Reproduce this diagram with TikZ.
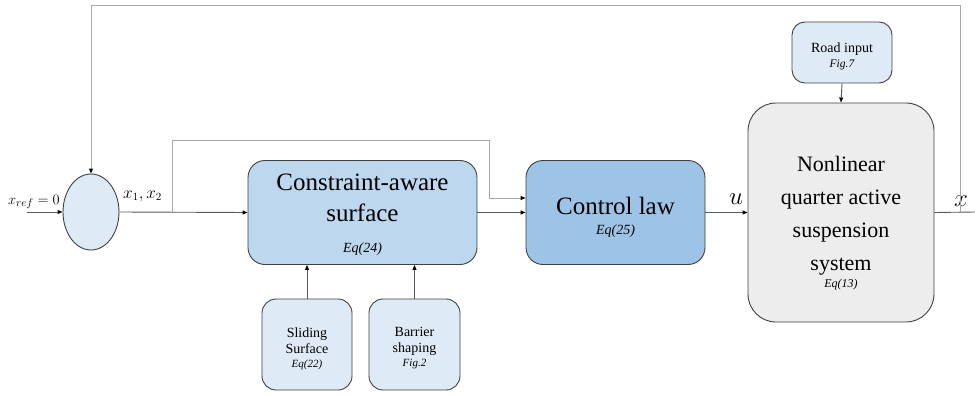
\documentclass[tikz,border=0pt]{standalone}
\usepackage{fontspec}
\setmainfont{Liberation Serif}
\usetikzlibrary{arrows.meta,shapes.geometric}
\definecolor{cLight}{HTML}{DEEBF7}
\definecolor{cMid}{HTML}{BDD7EE}
\definecolor{cDark}{HTML}{9DC3E6}
\definecolor{cGrey}{HTML}{EDEDED}
\definecolor{cBorder}{HTML}{404040}
\definecolor{cLine}{HTML}{595959}
\definecolor{cFb}{HTML}{A6A6A6}
\newcommand{\myfs}[2]{\fontsize{#1}{#2}\selectfont}
\begin{document}
\begin{tikzpicture}[x=1pt,y=-1pt,
  blk/.style={draw=cBorder, line width=0.9pt, inner sep=0pt},
  tip/.style={-{Triangle[length=5pt,width=4pt,color=black,fill=black]}},
  conn/.style={draw=cLine, line width=0.9pt, tip},
  connB/.style={draw=cFb, line width=0.9pt, tip},
  plain/.style={draw=cLine, line width=0.9pt},
  txt/.style={inner sep=0pt, align=center, text=black},
  eqtxt/.style={inner sep=0pt, anchor=base, font=\itshape}
]
\useasboundingbox (0,0) rectangle (975,396);

% blocks
\node[blk, ellipse, fill=cLight, minimum width=56pt, minimum height=76pt] (ell) at (91,212) {};
\node[blk, fill=cMid, rounded corners=17pt, minimum width=229pt, minimum height=104pt] (cons) at (362.5,212.5) {};
\node[blk, fill=cDark, rounded corners=17pt, minimum width=179pt, minimum height=104pt] (ctrl) at (615.5,212.5) {};
\node[blk, fill=cGrey, rounded corners=28pt, minimum width=186pt, minimum height=219pt] (plant) at (841,212.5) {};
\node[blk, fill=cLight, rounded corners=13pt, minimum width=100pt, minimum height=61pt] (road) at (842,52.5) {};
\node[blk, fill=cLight, rounded corners=14pt, minimum width=90pt, minimum height=91pt] (slide) at (307,344.5) {};
\node[blk, fill=cLight, rounded corners=14pt, minimum width=91pt, minimum height=91pt] (barr) at (414.5,344.5) {};

% texts
\node[txt, font=\myfs{25}{31}] (tcons) at (362.5,198) {Constraint-aware\\surface};
\node[eqtxt, font=\myfs{14}{16}\itshape] (econs) at (362.5,252) {Eq(24)};
\node[txt, anchor=base, font=\myfs{25}{31}] (tctrl) at (615.5,214) {Control law};
\node[eqtxt, font=\myfs{14}{16}\itshape] (ectrl) at (615.5,234) {Eq(25)};
\node[txt, font=\myfs{22}{33}] (tplant) at (841,216) {Nonlinear\\quarter active\\suspension\\system};
\node[eqtxt, font=\myfs{12}{14}\itshape] (eplant) at (841,287) {Eq(13)};
\node[txt, anchor=base, font=\myfs{14}{16}] (troad) at (842,53) {Road input};
\node[eqtxt, font=\myfs{11.5}{14}\itshape] (eroad) at (842,67.5) {Fig.7};
\node[txt, font=\myfs{14}{16}] (tslide) at (307,341) {Sliding\\Surface};
\node[eqtxt, font=\myfs{11}{14}\itshape] (eslide) at (307,367) {Eq(22)};
\node[txt, font=\myfs{14}{16}] (tbarr) at (414.5,341.5) {Barrier\\shaping};
\node[eqtxt, font=\myfs{11}{14}\itshape] (ebarr) at (414.5,366) {Fig.2};

% math labels
\node[inner sep=0pt, anchor=base west, font=\myfs{15}{18}] (lref) at (8,204) {$x_{ref}=0$};
\node[inner sep=0pt, anchor=base west, font=\myfs{16}{18}] (lx12) at (123,198) {$x_1,x_2$};
\node[inner sep=0pt, anchor=base, font=\myfs{28}{30}] (lu) at (736,204) {$u$};
\node[inner sep=0pt, anchor=base, font=\myfs{28}{30}] (lx) at (961,206) {$x$};

% coordinates
\coordinate (in) at (27,212);
\coordinate (br) at (172,212);
\coordinate (brtop) at (489,140);
\coordinate (out) at (975,212);
\coordinate (fb) at (960,212);
\coordinate (fbtop) at (960,5);

% connectors
\draw[conn] (in) -- (ell.west);
\draw[conn] (ell.east) -- (cons.west);
\draw[connB] (br) |- (brtop) |- ([yshift=14.5pt]ctrl.west);
\draw[conn] (cons.east) -- (ctrl.west);
\draw[conn] (ctrl.east) -- (plant.west);
\draw[conn] (road.south) -- (plant.north);
\draw[conn] (slide.north) -- (slide.north |- cons.south);
\draw[conn] (barr.north) -- (barr.north |- cons.south);
\draw[plain] (plant.east) -- (out);
\draw[connB] (fb) -- (fbtop) -| (ell.north);
\end{tikzpicture}
\end{document}
